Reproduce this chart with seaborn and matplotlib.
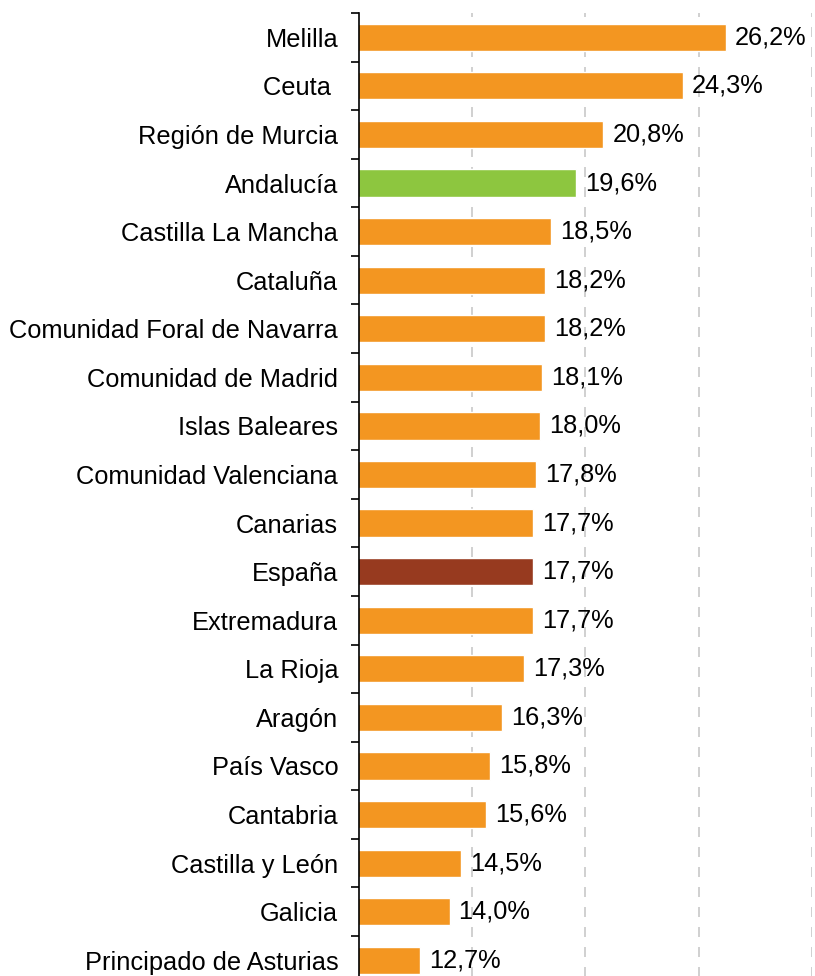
import pandas as pd
import matplotlib.pyplot as plt
import seaborn as sns
from matplotlib.ticker import FixedLocator

regiones = ['Melilla', 'Ceuta ', 'Región de Murcia', 'Andalucía', 'Castilla La Mancha',
            'Cataluña', 'Comunidad Foral de Navarra', 'Comunidad de Madrid', 'Islas Baleares',
            'Comunidad Valenciana', 'Canarias', 'España', 'Extremadura', 'La Rioja', 'Aragón',
            'País Vasco', 'Cantabria', 'Castilla y León', 'Galicia', 'Principado de Asturias']
valores = [26.2, 24.3, 20.8, 19.6, 18.5, 18.2, 18.2, 18.1, 18.0, 17.8,
           17.7, 17.7, 17.7, 17.3, 16.3, 15.8, 15.6, 14.5, 14.0, 12.7]

naranja = '#F39621'
colores = {r: naranja for r in regiones}
colores['Andalucía'] = '#8DC63F'
colores['España'] = '#973A1F'

df = pd.DataFrame({'region': regiones, 'valor': valores})

sns.set_style('white')
plt.rcParams['font.family'] = ['Liberation Sans', 'DejaVu Sans']
plt.rcParams['text.color'] = 'black'
plt.rcParams['ytick.color'] = 'black'
plt.rcParams['ytick.labelcolor'] = 'black'

fig = plt.figure(figsize=(8.15, 9.76), dpi=100)
ax = fig.add_axes([0.4405, -0.0088, 0.5555, 0.9955])

sns.barplot(data=df, x='valor', y='region', hue='region', palette=colores,
            legend=False, width=0.56, saturation=1, ax=ax)

ax.set_xlim(10, 30)
ax.set_ylim(len(regiones) - 0.5, -0.5)
ax.set_xlabel('')
ax.set_ylabel('')
ax.set_xticks([15, 20, 25, 30])
ax.set_xticklabels([])
ax.tick_params(axis='x', length=0)
ax.grid(axis='x', color='#c8c8c8', linestyle=(0, (6, 6)), linewidth=1.2)
ax.set_axisbelow(True)

for s in ['top', 'right', 'bottom']:
    ax.spines[s].set_visible(False)
ax.spines['left'].set_color('black')
ax.spines['left'].set_linewidth(1.2)

ax.tick_params(axis='y', which='major', length=0, pad=15, labelsize=18.3, labelcolor='black')
ax.yaxis.set_minor_locator(FixedLocator([i - 0.5 for i in range(len(regiones) + 1)]))
ax.tick_params(axis='y', which='minor', left=True, length=6, width=1.2, color='black', direction='out')

for i, v in enumerate(valores):
    ax.text(v + 0.4, i, f'{v:.1f}%'.replace('.', ','), va='center', ha='left',
            fontsize=18.3, color='black')

fig.savefig('out.png', dpi=100)
